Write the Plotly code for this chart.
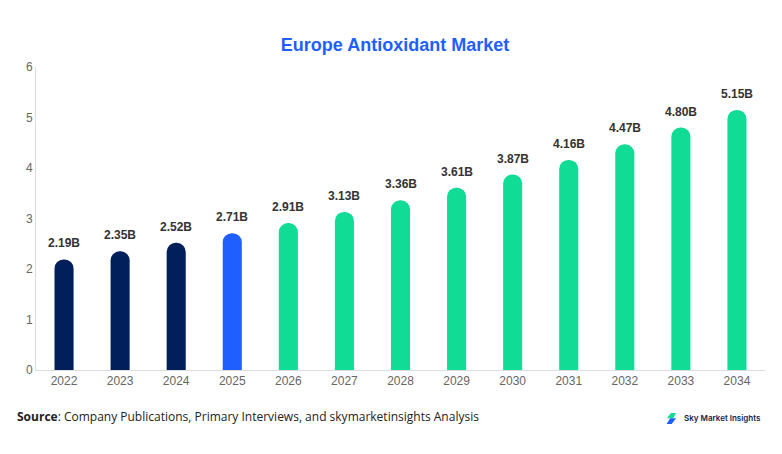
"""Europe Antioxidant Market bar chart."""

import plotly.graph_objects as go

years = ["2022", "2023", "2024", "2025", "2026", "2027", "2028",
         "2029", "2030", "2031", "2032", "2033", "2034"]
values = [2.19, 2.35, 2.52, 2.71, 2.91, 3.13, 3.36,
          3.61, 3.87, 4.16, 4.47, 4.80, 5.15]
labels = [f"{v:.2f}B" for v in values]

NAVY = "#011f5b"
BLUE = "#1f5fff"
GREEN = "#10dc95"
colors = [NAVY] * 3 + [BLUE] + [GREEN] * 9

fig = go.Figure()
fig.add_trace(go.Bar(
    x=years, y=values, width=0.34,
    marker=dict(color=colors, cornerradius="50%", line=dict(width=0)),
    hoverinfo="skip",
))

# value labels sit a little higher than plotly's outside text
# (category axis: annotation x is the category's serial number)
for i, (v, lab) in enumerate(zip(values, labels)):
    fig.add_annotation(x=i, y=v, text=f"<b>{lab}</b>", showarrow=False,
                       yanchor="bottom", yshift=7,
                       font=dict(family="Arial", size=12, color="#333333"))

# page body adds an 8px offset, so the figure is a bit smaller than the window
fig.update_layout(
    width=774, height=446,
    margin=dict(l=28, r=17, t=59, b=84),
    paper_bgcolor="white", plot_bgcolor="white",
    showlegend=False,
    title=dict(text="<b>Europe Antioxidant Market</b>", x=0.5, xanchor="center",
               y=0.917, yanchor="middle",
               font=dict(family="Arial", size=18, color="#1f5fff")),
    font=dict(family="Arial", color="#666666", size=12),
)
fig.update_xaxes(type="category", showline=True, linecolor="#dddddd", linewidth=1,
                 ticks="", showgrid=False, tickfont=dict(size=12, color="#666666"))
fig.update_yaxes(range=[0, 6], dtick=1, showgrid=False, zeroline=False,
                 showline=True, linecolor="#dddddd", linewidth=1,
                 ticks="", tickfont=dict(size=12, color="#666666"))

fig.add_annotation(
    text="<b>Source</b>: Company Publications, Primary Interviews, and skymarketinsights Analysis",
    xref="paper", yref="paper", x=-0.0288, y=-0.152,
    xanchor="left", yanchor="middle", showarrow=False,
    font=dict(family="Open Sans", size=12, color="#222222"))

# logo: two slanted blocks plus name
fig.add_shape(type="path", xref="paper", yref="paper",
              path="M 0.8710,-0.1419 L 0.8780,-0.1419 L 0.8740,-0.1590 L 0.8656,-0.1590 Z",
              fillcolor=GREEN, line=dict(width=0))
fig.add_shape(type="path", xref="paper", yref="paper",
              path="M 0.8700,-0.1590 L 0.8780,-0.1590 L 0.8720,-0.1782 L 0.8650,-0.1782 Z",
              fillcolor=BLUE, line=dict(width=0))
fig.add_annotation(
    text="Sky Market Insights", xref="paper", yref="paper",
    x=0.886, y=-0.160, xanchor="left", yanchor="middle", showarrow=False,
    font=dict(family="Inter", size=8, color="#14224f", weight=600))

fig.write_html("out.html")
